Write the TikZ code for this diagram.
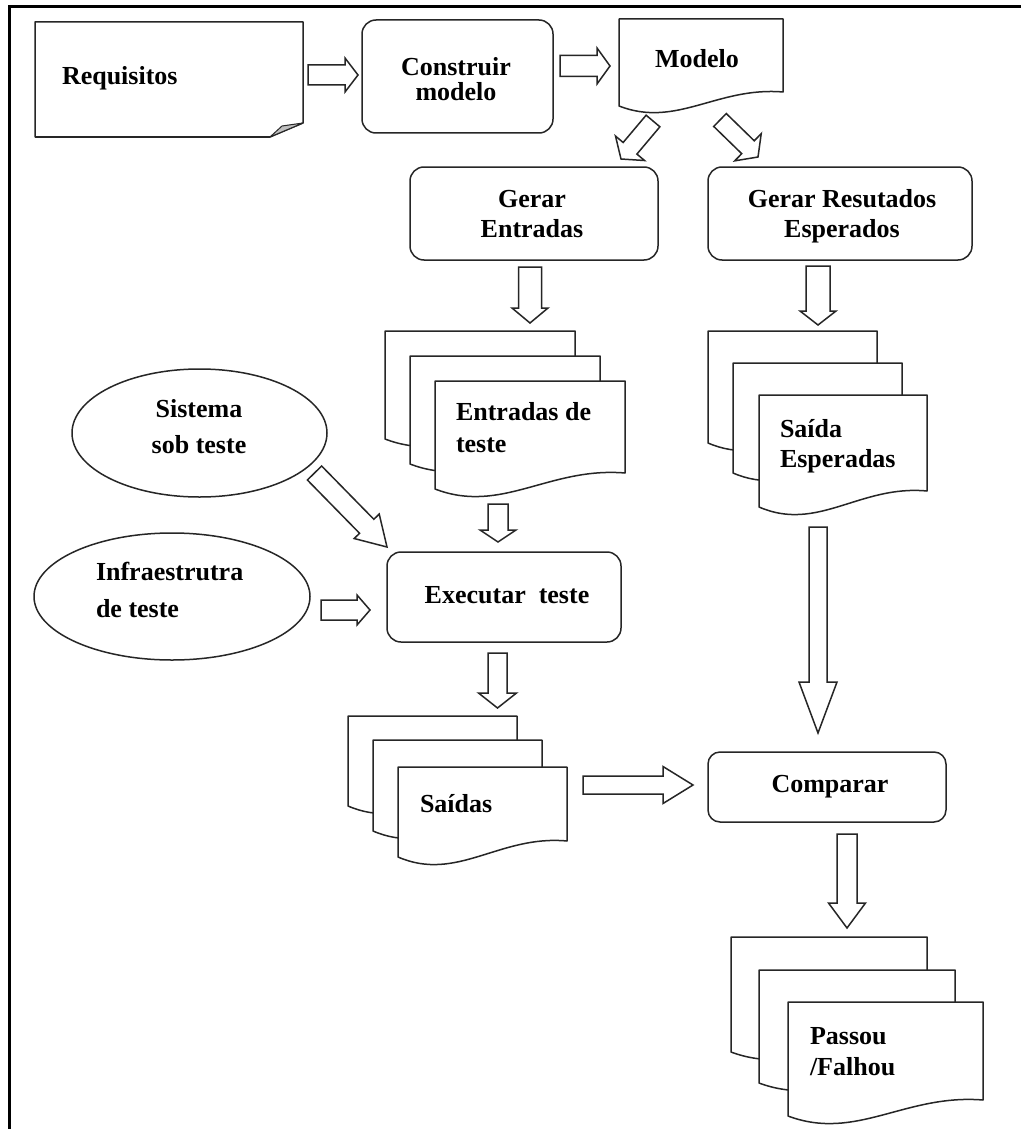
\documentclass[tikz,border=0pt]{standalone}
\usepackage{fontspec}
\setmainfont{Liberation Serif}
\usetikzlibrary{calc,shapes.geometric}
\newcommand\cst[2]{\vtop{\baselineskip=#1pt\lineskiplimit=-50pt\lineskip=0pt\halign{\hfil##\hfil\cr#2\crcr}}}
\newcommand\lst[2]{\vtop{\baselineskip=#1pt\lineskiplimit=-50pt\lineskip=0pt\halign{##\hfil\cr#2\crcr}}}
\tikzset{
  shp/.style={draw=black!85, line width=1.5pt, line join=round},
  rbox/.style={shp, rounded corners=14pt, fill=white, inner sep=0pt, outer sep=0pt},
  ell/.style={shp, shape=ellipse, fill=white, inner sep=0pt, outer sep=0pt},
  blk/.style={shp, fill=white, line join=miter},
  txt/.style={inner sep=0pt, outer sep=0pt, font=\fontsize{26}{30}\selectfont\bfseries},
  hold/.style={inner sep=0pt, outer sep=0pt},
}
% document shape: name, left x, top y, width, height (to lower-left), wave rise
\newcommand\docshape[6]{%
  \node[hold, minimum width=#4pt, minimum height=#5pt, anchor=north west] (#1) at (#2,#3) {};
  \draw[shp, fill=white] (#1.north west) -- (#1.north east) -- ($(#1.south east)+(0,-#6)$)
    .. controls ($(#1.south west)+(0.6*#4,-1.4*#6)$) and ($(#1.south west)+(0.35*#4,1.6*#6)$) .. (#1.south west) -- cycle;
}
% block arrow: start, end, shaft half width, head half width, head length
\newcommand\barrow[5]{%
  \coordinate (bS) at #1; \coordinate (bE) at #2;
  \coordinate (bH) at ($(bE)!#5pt!(bS)$);
  \draw[blk] ($(bS)!#3pt!90:(bE)$) -- ($(bH)!#3pt!-90:(bS)$) -- ($(bH)!#4pt!-90:(bS)$) -- (bE)
    -- ($(bH)!#4pt!90:(bS)$) -- ($(bH)!#3pt!90:(bS)$) -- ($(bS)!#3pt!-90:(bE)$) -- cycle;
}
\begin{document}
\begin{tikzpicture}[x=1pt,y=-1pt]
\useasboundingbox (0,0) rectangle (1021,1129);
\fill[white] (0,0) rectangle (1021,1129);
\draw[line width=3pt] (9,1129) -- (9,6.5) -- (1021,6.5);

% Requisitos
\node[hold, minimum width=268pt, minimum height=115pt] (req) at (169,79.5) {};
\draw[shp, fill=white] (req.north west) -- (req.north east) -- ($(req.south east)+(0,-14)$)
  -- ($(req.south east)+(-33,0)$) -- (req.south west) -- cycle;
\draw[shp, fill=black!25, line width=1pt] ($(req.south east)+(-33,0)$) -- ($(req.south east)+(-21,-11)$)
  -- ($(req.south east)+(0,-14)$) -- cycle;
\node[txt, anchor=base west] (req-t) at (62,85) {Requisitos};

% Construir modelo
\node[rbox, minimum width=191pt, minimum height=113pt] (constr) at (457.5,76.5) {};
\node[txt, anchor=base] (constr-t) at (456,76) {\cst{25}{Construir\cr modelo}};

% Modelo
\docshape{modelo}{619}{19}{164}{87}{14}
\node[txt, anchor=base] (modelo-t) at (697,68) {Modelo};

% Gerar Entradas / Gerar Resultados
\node[rbox, minimum width=248pt, minimum height=93pt] (gerE) at (534,213.5) {};
\node[txt, anchor=base] (gerE-t) at (532,207) {\cst{30}{Gerar\cr Entradas}};
\node[rbox, minimum width=264pt, minimum height=93pt] (gerR) at (840,213.5) {};
\node[txt, anchor=base] (gerR-t) at (842,207) {\cst{30}{Gerar Resutados\cr Esperados}};

% Entradas de teste stack
\docshape{ent1}{385}{331}{190}{108}{16}
\docshape{ent2}{410}{356}{190}{108}{16}
\docshape{ent3}{435}{381}{190}{108}{16}
\node[txt, anchor=base west] (ent-t) at (456,420) {\lst{32}{Entradas de\cr teste}};

% Saida Esperadas stack
\docshape{esp1}{708}{331}{169}{112}{16}
\docshape{esp2}{733}{363}{169}{110}{16}
\docshape{esp3}{759}{395}{168}{112}{16}
\node[txt, anchor=base west] (esp-t) at (780,437) {\lst{30}{Saída\cr Esperadas}};

% Ellipses
\node[ell, minimum width=255pt, minimum height=128pt] (sis) at (199.5,433) {};
\node[txt, anchor=base] (sis-t) at (199,417) {\cst{36}{Sistema\cr sob teste}};
\node[ell, minimum width=276pt, minimum height=127pt] (inf) at (172,596.5) {};
\node[txt, anchor=base west] (inf-t) at (96,580) {\lst{37}{Infraestrutra\cr de teste}};

% Executar teste
\node[rbox, minimum width=234pt, minimum height=90pt] (exec) at (504,597) {};
\node[txt, anchor=base] (exec-t) at (507,603) {Executar\ \ teste};

% Saidas stack
\docshape{sai1}{348}{716}{169}{90}{16}
\docshape{sai2}{373}{740}{169}{91}{16}
\docshape{sai3}{398}{767}{169}{90}{16}
\node[txt, anchor=base west] (sai-t) at (420,812) {Saídas};

% Comparar
\node[rbox, rounded corners=12pt, minimum width=238pt, minimum height=70pt] (comp) at (827,787) {};
\node[txt, anchor=base] (comp-t) at (830,792) {Comparar};

% Passou / Falhou stack
\docshape{pas1}{731}{937}{196}{115}{16}
\docshape{pas2}{759}{970}{196}{113}{16}
\docshape{pas3}{788}{1002}{195}{114}{16}
\node[txt, anchor=base west] (pas-t) at (810,1044) {\lst{31}{Passou\cr /Falhou}};

% Block arrows (connectors)
\barrow{($(req.east)+(5,-4.5)$)}{($(constr.west)+(-4,-1.5)$)}{10}{17}{13}
\barrow{($(constr.east)+(7,-10.5)$)}{($(modelo.west)+(-9,3.5)$)}{10.5}{18}{13}
\barrow{($(modelo.south west)+(34,15)$)}{($(gerE.north east)+(-37,-8)$)}{9}{19}{14}
\barrow{($(modelo.south)+(19,14)$)}{($(gerR.north west)+(50,-10)$)}{9}{19}{14}
\barrow{($(gerE.south)+(-4,7)$)}{($(ent1.north east)+(-45,-8)$)}{11.5}{18}{15}
\barrow{($(gerR.south)+(-22,6)$)}{($(esp1.north)+(25.5,-6)$)}{12}{18}{14}
\barrow{($(ent3.south)+(-32,15)$)}{($(exec.north)+(-6,-10)$)}{10}{18}{12}
\barrow{($(sis.center)+(115,40)$)}{($(exec.north west)+(0,-5)$)}{10}{17.5}{29}
\barrow{($(inf.east)+(11,13.5)$)}{($(exec.west)+(-17,13)$)}{10}{15}{13}
\barrow{($(exec.south)+(-6.5,11)$)}{($(sai1.north east)+(-19.5,-8)$)}{9.5}{19}{15}
\barrow{($(sai3.north east)+(16,18)$)}{($(comp.west)+(-15,-2)$)}{9}{18.5}{30}
\barrow{($(esp3.south west)+(59,20)$)}{($(comp.north)+(-9,-19)$)}{9}{19}{51}
\barrow{($(comp.south)+(20,12)$)}{($(pas1.north east)+(-80,-9)$)}{10}{18.5}{25}
\end{tikzpicture}
\end{document}
